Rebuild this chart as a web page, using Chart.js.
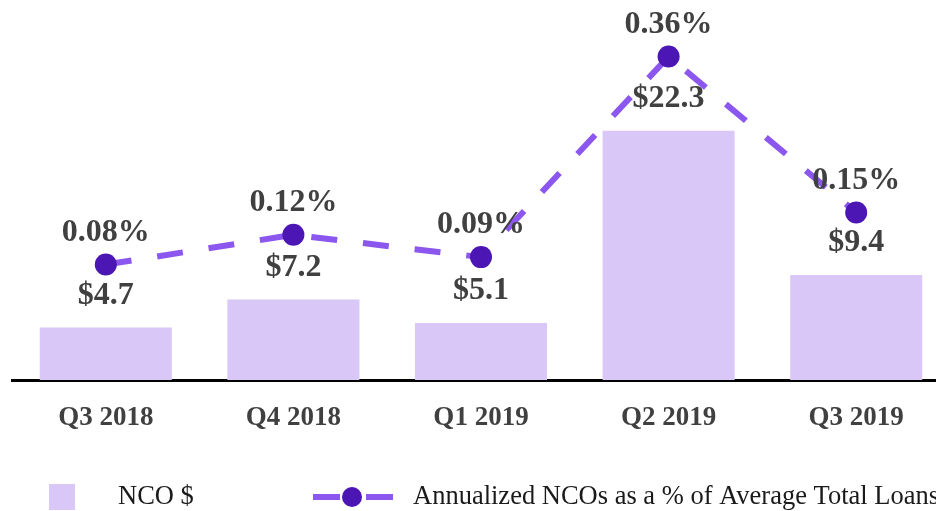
<!DOCTYPE html>
<html>
<head>
<meta charset="utf-8">
<script src="https://cdn.jsdelivr.net/npm/chart.js@4.4.1/dist/chart.umd.min.js"></script>
<style>
  html, body { margin: 0; padding: 0; background: #fff; overflow: hidden; }
  #wrap { width: 936px; height: 511px; overflow: hidden; }
</style>
</head>
<body>
<div id="wrap"><canvas id="ncoChart" width="950" height="511"></canvas></div>
<script>
// chart data
const quarters = ['Q3 2018', 'Q4 2018', 'Q1 2019', 'Q2 2019', 'Q3 2019'];
const ncoDollars = [4.7, 7.2, 5.1, 22.3, 9.4];
const ncoPercent = [0.08, 0.12, 0.09, 0.36, 0.15];
const seriesNames = ['NCO $', 'Annualized NCOs as a % of Average Total Loans'];

const barColor = '#d9c8f7';
const lineColor = '#8b57ee';
const pointColor = '#4b16b3';
const serif = "'Liberation Serif', 'Times New Roman', serif";

// value labels above bars and points
const valueLabels = {
    id: 'valueLabels',
    afterDatasetsDraw(chart) {
        const ctx = chart.ctx;
        ctx.save();
        ctx.font = 'bold 32px ' + serif;
        ctx.fillStyle = '#404040';
        ctx.textAlign = 'center';
        ctx.textBaseline = 'middle';
        chart.getDatasetMeta(1).data.forEach(function(el, i) {
            ctx.fillText('$' + ncoDollars[i].toFixed(1), el.x, el.y - 32);
        });
        chart.getDatasetMeta(0).data.forEach(function(el, i) {
            ctx.fillText(ncoPercent[i].toFixed(2) + '%', el.x, el.y - 32);
        });
        ctx.restore();
    }
};

// legend drawn at the bottom
const bottomLegend = {
    id: 'bottomLegend',
    afterDraw(chart) {
        const ctx = chart.ctx;
        const y = 497;
        ctx.save();
        ctx.fillStyle = barColor;
        ctx.fillRect(49, 484, 26, 26);

        ctx.strokeStyle = lineColor;
        ctx.lineWidth = 6;
        ctx.beginPath();
        ctx.moveTo(313, y); ctx.lineTo(340, y);
        ctx.moveTo(366, y); ctx.lineTo(393, y);
        ctx.stroke();
        ctx.fillStyle = pointColor;
        ctx.beginPath();
        ctx.arc(352, y, 10, 0, Math.PI * 2);
        ctx.fill();

        ctx.font = '26.5px ' + serif;
        ctx.fillStyle = '#1a1a1a';
        ctx.textAlign = 'left';
        ctx.textBaseline = 'middle';
        ctx.fillText(seriesNames[0], 118, y);
        ctx.fillText(seriesNames[1], 413, y);
        ctx.restore();
    }
};

new Chart(document.getElementById('ncoChart').getContext('2d'), {
    data: {
        labels: quarters,
        datasets: [{
            type: 'line',
            label: seriesNames[1],
            data: ncoPercent,
            yAxisID: 'y1',
            borderColor: lineColor,
            borderWidth: 6,
            borderDash: [26, 26],
            pointRadius: 11,
            pointBackgroundColor: pointColor,
            pointBorderWidth: 0,
            tension: 0,
            order: 0
        }, {
            type: 'bar',
            label: seriesNames[0],
            data: ncoDollars,
            yAxisID: 'y',
            backgroundColor: barColor,
            barPercentage: 0.704,
            categoryPercentage: 1,
            order: 1
        }]
    },
    options: {
        responsive: false,
        animation: false,
        layout: { autoPadding: false, padding: { left: 12, right: 0, top: 0, bottom: 0 } },
        plugins: { legend: { display: false }, tooltip: { enabled: false } },
        scales: {
            x: {
                grid: { display: false, drawTicks: false },
                border: { display: true, color: '#000', width: 3 },
                ticks: {
                    padding: 22,
                    color: '#404040',
                    font: { family: serif, size: 27, weight: 'bold' }
                },
                afterFit: function(scale) { scale.height = 131; }
            },
            y: { display: false, min: 0, max: 34 },
            y1: { display: false, min: -0.0754, max: 0.4361 }
        }
    },
    plugins: [valueLabels, bottomLegend]
});
</script>
</body>
</html>
